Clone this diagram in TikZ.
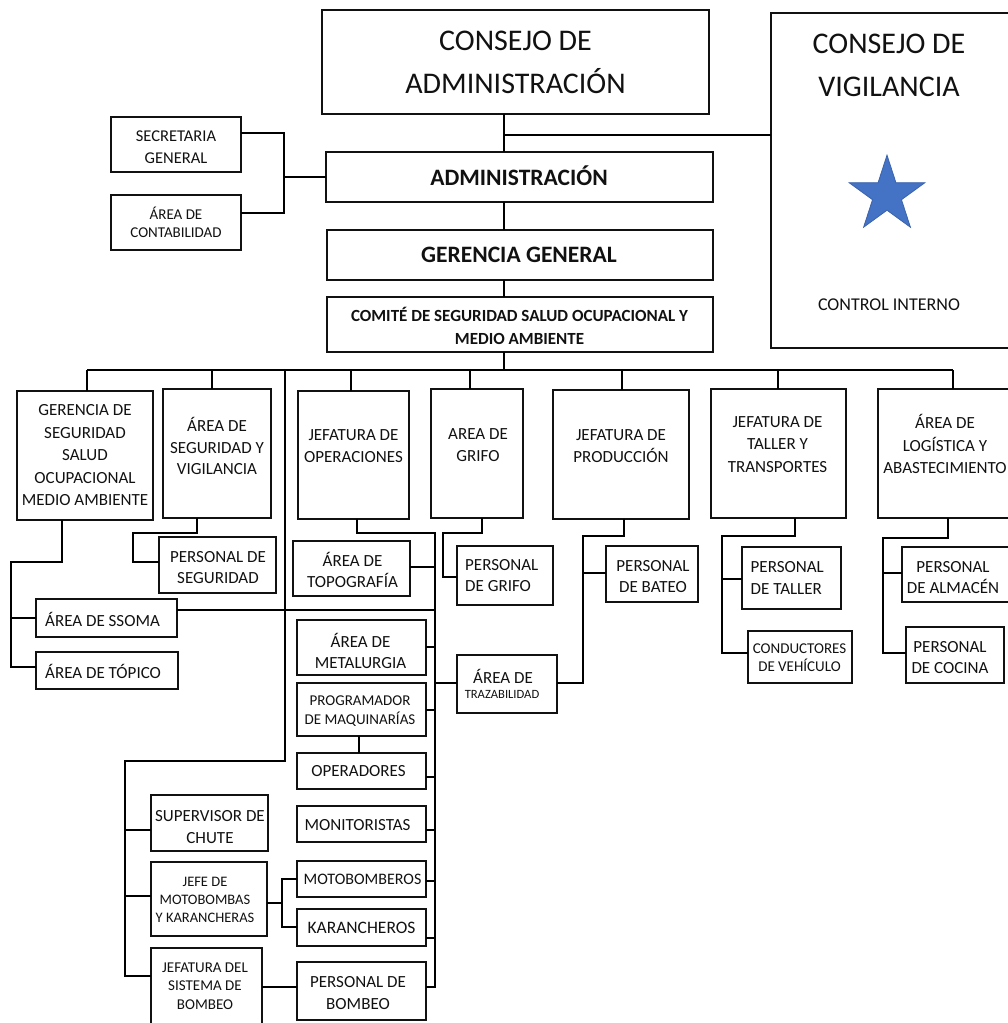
\documentclass[tikz,border=0pt]{standalone}
\usepackage{fontspec}
\setmainfont{Carlito}
\usetikzlibrary{shapes.geometric}
\definecolor{ink}{HTML}{111111}
\definecolor{starfill}{HTML}{4472C4}
\definecolor{starline}{HTML}{3B63AC}
% \orgbox[style]{x1}{y1}{x2}{y2}{name}: an empty framed rectangle between two corners
\newcommand\orgbox[6][]{\node[#1, minimum width={(#4-#2)*1pt}, minimum height={(#5-#3)*1pt}] (#6) at ({(#2+#4)/2},{(#3+#5)/2}) {};}
\newcommand\fs[2]{\fontsize{#1}{#2}\selectfont}
\begin{document}
\begin{tikzpicture}[x=1pt,y=-1pt,
  frame/.style={rectangle, draw=ink, inner sep=0pt, outer sep=0pt},
  heavy/.style={frame, line width=2pt},
  mid/.style={frame, line width=1.8pt},
  light/.style={frame, line width=1.3pt},
  conn/.style={draw=black, line width=1.7pt},
  lbl/.style={text=ink, align=center, inner sep=0pt},
  lbll/.style={text=ink, align=left, inner sep=0pt, anchor=west}]
\useasboundingbox (0,0) rectangle (1008,1023);
\clip (0,0) rectangle (1008,1023);

% ---------- upper governance ----------
\orgbox[heavy]{322}{10}{709}{114}{cadm}
\node[lbl, font=\fs{30}{43}] (cadm-t) at (515.5,62.5) {CONSEJO DE\\ADMINISTRACIÓN};

\orgbox[frame, line width=1.5pt]{771}{13}{1014}{348}{cvig}
\node[lbl, font=\fs{30}{43}] (cvig-t) at (889,65.5) {CONSEJO DE\\VIGILANCIA};
\node[star, star points=5, star point ratio=2.618, minimum size=79.6pt, inner sep=0pt,
      fill=starfill, draw=starline, line width=0.8pt] (cvig-star) at (887,195) {};
\node[lbl, font=\fs{18}{22}] (cvig-ci) at (889,304.5) {CONTROL INTERNO};

\orgbox[light]{111}{117}{241}{172}{sec}
\node[lbl, font=\fs{16.5}{22}] (sec-t) at (176,147) {SECRETARIA\\GENERAL};
\orgbox[light]{111}{195}{241}{250}{cont}
\node[lbl, font=\fs{15}{18}] (cont-t) at (176,222.5) {ÁREA DE\\CONTABILIDAD};

\orgbox[heavy]{326}{152}{713}{202}{adm}
\node[lbl, font=\bfseries\fs{23.5}{28}] (adm-t) at (519,176) {ADMINISTRACIÓN};
\orgbox[heavy]{327}{230}{713}{280}{gg}
\node[lbl, font=\bfseries\fs{23.5}{28}] (gg-t) at (519,254.5) {GERENCIA GENERAL};
\orgbox[heavy]{327}{297}{713}{352}{csso}
\node[lbl, font=\bfseries\fs{17}{23}] (csso-t) at (519.5,326) {COMITÉ DE SEGURIDAD SALUD OCUPACIONAL Y\\MEDIO AMBIENTE};

% ---------- second level ----------
\orgbox[mid]{17}{391}{153}{520}{gsso}
\node[lbl, font=\fs{17}{22.5}] (gsso-t) at (85,455.5) {GERENCIA DE\\SEGURIDAD\\SALUD\\OCUPACIONAL\\MEDIO AMBIENTE};
\orgbox[mid]{163}{389}{271}{518}{asv}
\node[lbl, font=\fs{17}{21.5}] (asv-t) at (217,446) {ÁREA DE\\SEGURIDAD Y\\VIGILANCIA};
\orgbox[mid]{298}{391}{409}{519}{jop}
\node[lbl, font=\fs{17}{22.5}] (jop-t) at (353.5,446.3) {JEFATURA DE\\OPERACIONES};
\orgbox[mid]{431}{389}{523}{518}{agr}
\node[lbl, font=\fs{17}{22}] (agr-t) at (478,445) {AREA DE\\GRIFO};
\orgbox[mid]{553}{390}{689}{519}{jpr}
\node[lbl, font=\fs{17}{22.3}] (jpr-t) at (621,446) {JEFATURA DE\\PRODUCCIÓN};
\orgbox[mid]{711}{389}{846}{518}{jtt}
\node[lbl, font=\fs{17}{22.2}] (jtt-t) at (777.5,444.5) {JEFATURA DE\\TALLER Y\\TRANSPORTES};
\orgbox[mid]{878}{389}{1014}{518}{alg}
\node[lbl, font=\fs{17}{22.5}] (alg-t) at (945,444) {ÁREA DE\\LOGÍSTICA Y\\ABASTECIMIENTO};

% ---------- dependent units ----------
\orgbox[light]{159}{537}{276}{593}{pseg}
\node[lbl, font=\fs{17}{21}] (pseg-t) at (218,568) {PERSONAL DE\\SEGURIDAD};
\orgbox[light]{36}{599}{177}{637}{ssoma}
\node[lbll, font=\fs{17}{21}] (ssoma-t) at (45,619) {ÁREA DE SSOMA};
\orgbox[light]{36}{652}{178}{689}{topi}
\node[lbll, font=\fs{17}{21}] (topi-t) at (45,671) {ÁREA DE TÓPICO};

\orgbox[light]{293}{541}{410}{596}{topo}
\node[lbl, font=\fs{17}{20.7}] (topo-t) at (352.5,570) {ÁREA DE\\TOPOGRAFÍA};
\orgbox[light]{457}{546}{553}{605}{pgri}
\node[lbll, font=\fs{17}{21}] (pgri-t) at (465,576) {PERSONAL\\DE GRIFO};
\orgbox[light]{297}{620}{426}{675}{meta}
\node[lbl, font=\fs{17}{21}] (meta-t) at (360.5,650.5) {ÁREA DE\\METALURGIA};
\orgbox[light]{457}{655}{557}{713}{traz}
\node[lbl, font=\fs{17}{20}] (traz-t1) at (503,676.7) {ÁREA DE};
\node[lbl, font=\fs{12.6}{15}] (traz-t2) at (502,694.2) {TRAZABILIDAD};

\orgbox[light]{297}{683}{426}{736}{prog}
\node[lbl, font=\fs{15}{18.3}] (prog-t) at (360,711) {PROGRAMADOR\\DE MAQUINARÍAS};
\orgbox[light]{297}{753}{426}{789}{oper}
\node[lbl, font=\fs{17}{21}] (oper-t) at (358.5,771.5) {OPERADORES};
\orgbox[light]{297}{806}{426}{842}{moni}
\node[lbl, font=\fs{17}{21}] (moni-t) at (357.5,825) {MONITORISTAS};
\orgbox[light]{297}{861}{426}{897}{motb}
\node[lbl, font=\fs{16}{20}] (motb-t) at (362.5,879) {MOTOBOMBEROS};
\orgbox[light]{297}{909}{426}{946}{kara}
\node[lbl, font=\fs{17.5}{21}] (kara-t) at (361.5,928) {KARANCHEROS};
\orgbox[light]{297}{962}{426}{1020}{pbom}
\node[lbl, font=\fs{17}{21.5}] (pbom-t) at (358,993) {PERSONAL DE\\BOMBEO};

\orgbox[light]{151}{795}{268}{851}{chut}
\node[lbl, font=\fs{17}{21.7}] (chut-t) at (210,827) {SUPERVISOR DE\\CHUTE};
\orgbox[light]{151}{862}{267}{936}{jmk}
\node[lbl, font=\fs{14.5}{18.3}] (jmk-t) at (205,900) {JEFE DE\\MOTOBOMBAS\\Y KARANCHERAS};
\orgbox[light]{151}{948}{262}{1030}{jsb}
\node[lbl, font=\fs{15}{18.5}] (jsb-t) at (205,986) {JEFATURA DEL\\SISTEMA DE\\BOMBEO};

\orgbox[light]{606}{546}{698}{602}{pbat}
\node[lbl, font=\fs{17}{21}] (pbat-t) at (653,577) {PERSONAL\\DE BATEO};
\orgbox[light]{742}{547}{841}{609}{ptal}
\node[lbll, font=\fs{17}{21.7}] (ptal-t) at (750.5,578) {PERSONAL\\DE TALLER};
\orgbox[light]{748}{631}{852}{683}{cond}
\node[lbl, font=\fs{15}{17.7}] (cond-t) at (799.5,658) {CONDUCTORES\\DE VEHÍCULO};
\orgbox[light]{902}{547}{1012}{602}{palm}
\node[lbl, font=\fs{17}{21.6}] (palm-t) at (953,577.5) {PERSONAL\\DE ALMACÉN};
\orgbox[light]{906}{627}{1004}{683}{pcoc}
\node[lbl, font=\fs{17}{21.6}] (pcoc-t) at (950,657.5) {PERSONAL\\DE COCINA};

% ---------- connectors ----------
% main spine
\coordinate (sp) at (504,135);
\coordinate (busL) at (87,370);
\coordinate (busR) at (953,370);
\draw[conn] (cadm.south -| sp) -- (adm.north -| sp);
\draw[conn] (sp) -- (sp -| cvig.west);
\draw[conn] (adm.south -| sp) -- (gg.north -| sp);
\draw[conn] (gg.south -| sp) -- (csso.north -| sp);
\draw[conn] (csso.south -| sp) -- (sp |- busL);
\draw[conn] (busL) -- (busR);

% support offices
\coordinate (secJ) at (284,133);
\coordinate (contJ) at (284,213);
\coordinate (admJ) at (284,177);
\draw[conn] (secJ -| sec.east) -- (secJ) -- (contJ) -- (contJ -| cont.east);
\draw[conn] (admJ) -- (admJ -| adm.west);

% drops from the bus
\coordinate (dASV) at (212,370);
\coordinate (dJO) at (351,370);
\coordinate (dAG) at (470,370);
\coordinate (dJP) at (622,370);
\coordinate (dJT) at (778,370);
\draw[conn] (busL) -- (busL |- gsso.north);
\draw[conn] (dASV) -- (dASV |- asv.north);
\draw[conn] (dJO) -- (dJO |- jop.north);
\draw[conn] (dAG) -- (dAG |- agr.north);
\draw[conn] (dJP) -- (dJP |- jpr.north);
\draw[conn] (dJT) -- (dJT |- jtt.north);
\draw[conn] (busR) -- (busR |- alg.north);

% safety management
\coordinate (gJ1) at (62,562);
\coordinate (gJ2) at (11,562);
\coordinate (gJ3) at (11,667);
\coordinate (gS) at (11,618);
\draw[conn] (gJ1 |- gsso.south) -- (gJ1) -- (gJ2) -- (gJ3) -- (gJ3 -| topi.west);
\draw[conn] (gS) -- (gS -| ssoma.west);

% security and surveillance
\coordinate (aJ1) at (197,533);
\coordinate (aJ2) at (133,533);
\coordinate (aJ3) at (133,562);
\draw[conn] (aJ1 |- asv.south) -- (aJ1) -- (aJ2) -- (aJ3) -- (aJ3 -| pseg.west);

% operations column
\coordinate (oJ1) at (357,533);
\coordinate (oJ2) at (435,533);
\coordinate (oJ3) at (435,987);
\draw[conn] (oJ1 |- jop.south) -- (oJ1) -- (oJ2) -- (oJ3) -- (oJ3 -| pbom.east);
\coordinate (hJ) at (435,610);
\draw[conn] (hJ -| ssoma.east) -- (hJ);
\foreach \n/\yy in {topo/567, meta/647, prog/710, oper/777, moni/830, motb/881, kara/938}
  \draw[conn] (\n.east |- 0,\yy) -- (oJ2 |- 0,\yy);
\draw[conn] (traz.west |- 0,683) -- (oJ2 |- 0,683);
\draw[conn] (prog.south -| 359,0) -- (oper.north -| 359,0);

% left operations branch
\coordinate (vL1) at (285,370);
\coordinate (vL2) at (285,761);
\coordinate (vL3) at (125,761);
\coordinate (vL4) at (125,976);
\draw[conn] (vL1) -- (vL2) -- (vL3) -- (vL4) -- (vL4 -| jsb.west);
\coordinate (bSC) at (125,830);
\coordinate (bJM) at (125,896);
\draw[conn] (bSC) -- (bSC -| chut.west);
\draw[conn] (bJM) -- (bJM -| jmk.west);
\coordinate (mJ1) at (282,903);
\coordinate (mJ2) at (282,879);
\coordinate (mJ3) at (282,927);
\draw[conn] (jmk.east |- mJ1) -- (mJ1);
\draw[conn] (mJ2 -| motb.west) -- (mJ2) -- (mJ3) -- (mJ3 -| kara.west);
\draw[conn] (jsb.east |- 0,987) -- (pbom.west |- 0,987);

% fuel area
\coordinate (fJ1) at (482,533);
\coordinate (fJ2) at (443,533);
\coordinate (fJ3) at (443,577);
\draw[conn] (fJ1 |- agr.south) -- (fJ1) -- (fJ2) -- (fJ3) -- (fJ3 -| pgri.west);

% production
\coordinate (pJ1) at (583,683);
\coordinate (pJ2) at (583,536);
\coordinate (pJ3) at (624,536);
\coordinate (pJb) at (583,573);
\draw[conn] (traz.east |- pJ1) -- (pJ1) -- (pJ2) -- (pJ3) -- (pJ3 |- jpr.south);
\draw[conn] (pJb) -- (pJb -| pbat.west);

% workshop and transport
\coordinate (tJ1) at (795,536);
\coordinate (tJ2) at (722,536);
\coordinate (tJ3) at (722,653);
\coordinate (tJb) at (722,579);
\draw[conn] (tJ1 |- jtt.south) -- (tJ1) -- (tJ2) -- (tJ3) -- (tJ3 -| cond.west);
\draw[conn] (tJb) -- (tJb -| ptal.west);

% logistics
\coordinate (lJ1) at (948,538);
\coordinate (lJ2) at (883,538);
\coordinate (lJ3) at (883,653);
\coordinate (lJb) at (883,573);
\draw[conn] (lJ1 |- alg.south) -- (lJ1) -- (lJ2) -- (lJ3) -- (lJ3 -| pcoc.west);
\draw[conn] (lJb) -- (lJb -| palm.west);
\end{tikzpicture}
\end{document}
